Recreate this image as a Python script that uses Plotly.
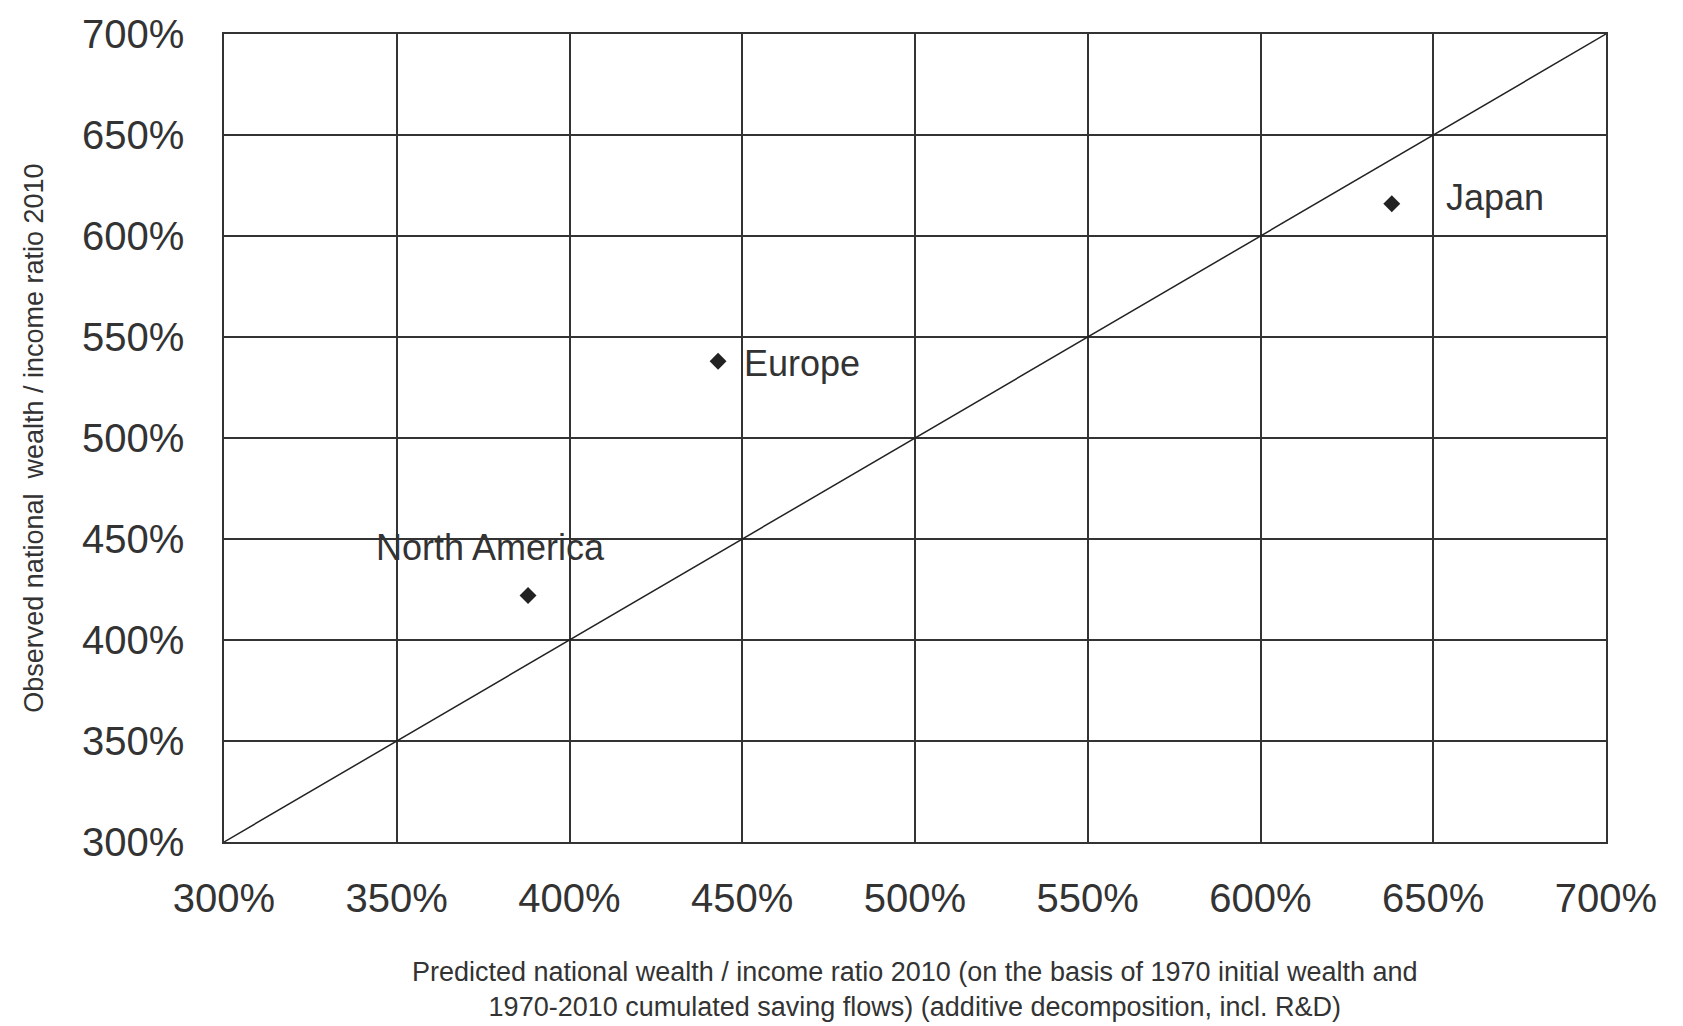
import plotly.graph_objects as go

regions = ["North America", "Europe", "Japan"]
predicted = [388, 443, 638]
observed = [422, 538, 616]
label_x = [377, 450, 653]
label_y = [446, 537, 619]
label_anchor = ["center", "left", "left"]
ticks = [300, 350, 400, 450, 500, 550, 600, 650, 700]
tick_text = [f"{t}%" for t in ticks]

fig = go.Figure()
fig.add_trace(go.Scatter(x=[300, 700], y=[300, 700], mode="lines",
                         line=dict(color="#222", width=1.5), showlegend=False))
fig.add_trace(go.Scatter(x=predicted, y=observed, mode="markers",
                         marker=dict(symbol="diamond", size=13, color="#222"),
                         showlegend=False))
for name, x, y, a in zip(regions, label_x, label_y, label_anchor):
    fig.add_annotation(x=x, y=y, text=name, showarrow=False, xanchor=a,
                       font=dict(size=36, color="#333"))

axis = dict(range=[300, 700], tickvals=ticks, ticktext=tick_text, showgrid=True,
            gridcolor="#333", gridwidth=1.5, zeroline=False, showline=True,
            linecolor="#333", linewidth=1.5, mirror=True,
            tickfont=dict(size=40, color="#333"), ticklen=0)
fig.update_xaxes(**axis, ticklabelstandoff=20)
fig.update_yaxes(**axis, ticklabelstandoff=30)
fig.update_layout(
    width=1683, height=1026, plot_bgcolor="white", paper_bgcolor="white",
    font=dict(family="Liberation Sans, Arial, sans-serif", color="#333"),
    margin=dict(l=216, r=85, t=26, b=192, autoexpand=False),
)
fig.add_annotation(xref="paper", yref="paper", x=0.5, y=-0.14, yanchor="top",
                   showarrow=False, font=dict(size=27, color="#333"),
                   text="Predicted national wealth / income ratio 2010 (on the basis of 1970 initial wealth and<br>1970-2010 cumulated saving flows) (additive decomposition, incl. R&D)")
fig.add_annotation(xref="paper", yref="paper", x=-0.15, y=0.5, textangle=-90,
                   showarrow=False, font=dict(size=27, color="#333"),
                   text="Observed national  wealth / income ratio 2010")
fig.write_html("out.html")
